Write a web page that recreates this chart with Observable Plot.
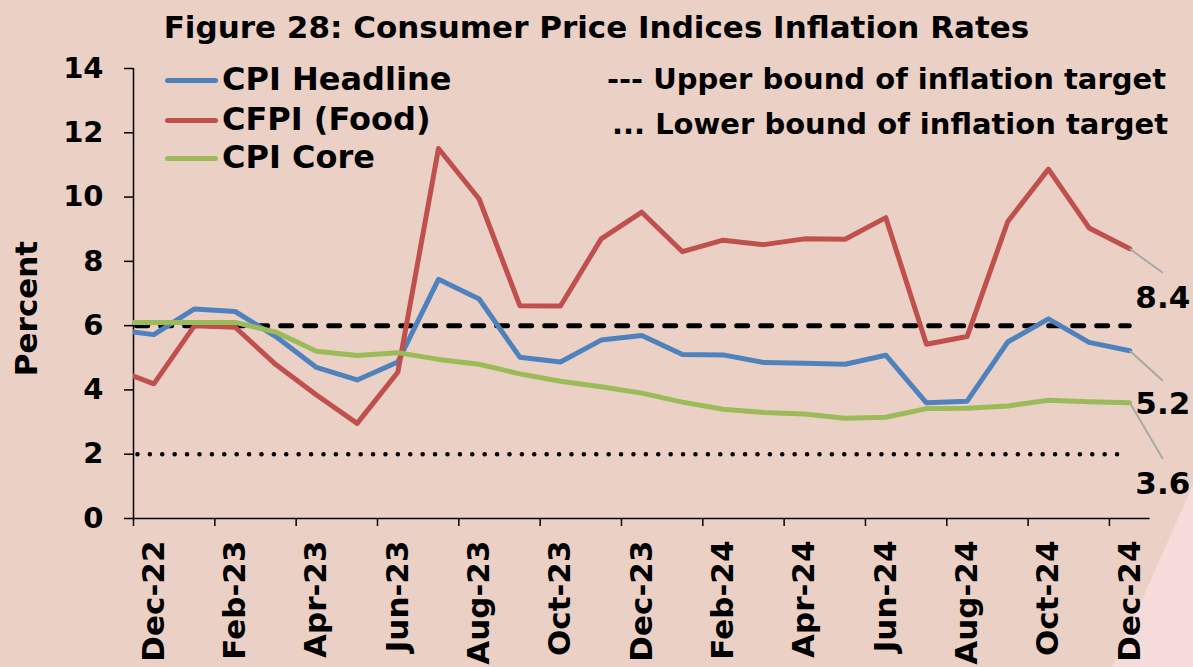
<!DOCTYPE html>
<html>
<head>
<meta charset="utf-8">
<script src="https://cdn.jsdelivr.net/npm/d3@7"></script>
<script src="https://cdn.jsdelivr.net/npm/@observablehq/plot@0.6"></script>
<style>
  html, body { margin: 0; padding: 0; }
  body { width: 1193px; height: 667px; overflow: hidden; }
  #wrap { position: relative; width: 1193px; height: 667px; background: #EBD0C6; font-family: "DejaVu Sans", sans-serif; font-weight: bold; color: #000; }
  #corner { position: absolute; left: 0; top: 0; width: 1193px; height: 667px; background: #F5DCDB; clip-path: polygon(1193px 485px, 1112px 667px, 1193px 667px); }
  #title { position: relative; height: 50px; line-height: 55px; text-align: center; font-size: 31px; }
  #chart { position: relative; }
  .leg { position: absolute; white-space: nowrap; line-height: 1; }
  .sw { position: absolute; height: 5px; border-radius: 3px; }
</style>
</head>
<body>
<div id="wrap">
  <div id="corner"></div>
  <div id="title">Figure 28: Consumer Price Indices Inflation Rates</div>
  <div id="chart"></div>
</div>
<script>
// ---- data ----
const months = ["Nov-22","Dec-22","Jan-23","Feb-23","Mar-23","Apr-23","May-23","Jun-23","Jul-23","Aug-23","Sep-23","Oct-23","Nov-23","Dec-23","Jan-24","Feb-24","Mar-24","Apr-24","May-24","Jun-24","Jul-24","Aug-24","Sep-24","Oct-24","Nov-24","Dec-24"];
const cpiHeadline = [5.88,5.72,6.52,6.44,5.66,4.70,4.31,4.87,7.44,6.83,5.02,4.87,5.55,5.69,5.10,5.09,4.85,4.83,4.80,5.08,3.60,3.65,5.49,6.21,5.48,5.22];
const cfpiFood    = [4.67,4.19,6.00,5.95,4.79,3.84,2.96,4.55,11.51,9.94,6.62,6.61,8.70,9.53,8.30,8.66,8.52,8.70,8.69,9.36,5.42,5.66,9.24,10.87,9.04,8.39];
const cpiCore     = [6.10,6.10,6.10,6.10,5.80,5.20,5.07,5.16,4.95,4.80,4.50,4.27,4.10,3.90,3.62,3.40,3.30,3.25,3.12,3.15,3.42,3.43,3.50,3.68,3.63,3.60];
const seriesNames = ["CPI Headline","CFPI (Food)","CPI Core"];
const seriesColors = ["#4F81BD","#C0504D","#9BBB59"];
const upperBound = 6;
const lowerBound = 2;
const yTicks = [0,2,4,6,8,10,12,14];

// ---- build ----
const idx = m => months.indexOf(m) - 1;   // Dec-22 = 0
const series = [cpiHeadline, cfpiFood, cpiCore];
const rows = [];
series.forEach((vals, s) => vals.forEach((v, i) => rows.push({name: seriesNames[s], x: idx(months[i]), y: v})));
const lastX = idx(months[months.length - 1]);
const firstX = idx(months[0]);
const labelMonths = months.filter((m, i) => i >= 1 && (i - 1) % 2 === 0);
const boundaries = d3.range(-0.5, lastX, 2);

const W = 1193, H = 617, mL = 133, mR = 43.4, mT = 18, mB = 149;
const pxX = (W - mL - mR) / 25, pxY = (H - mT - mB) / 14;

// end labels: offsets in pixels
const ends = [
  {s: 1, dyLink: 24, dyText: 49},
  {s: 0, dyLink: 30, dyText: 53},
  {s: 2, dyLink: 56, dyText: 81}
].map(e => {
  const v = series[e.s][series[e.s].length - 1];
  return {v, color: seriesColors[e.s], x2: lastX + 33 / pxX, y2: v - e.dyLink / pxY, dyText: e.dyText};
});

const font = "DejaVu Sans, sans-serif";
const plot = Plot.plot({
  width: W, height: H,
  marginLeft: mL, marginRight: mR, marginTop: mT, marginBottom: mB,
  style: {background: "transparent", fontFamily: font, fontWeight: "bold", color: "#000", overflow: "visible"},
  x: {type: "linear", domain: [-0.5, 24.5]},
  y: {domain: [0, 14]},
  color: {domain: seriesNames, range: seriesColors},
  marks: [
    // target bounds
    Plot.ruleY([upperBound], {x1: firstX, x2: lastX, stroke: "#000", strokeWidth: 5, strokeDasharray: "11,13", strokeLinecap: "round", clip: true}),
    Plot.ruleY([lowerBound], {x1: firstX, x2: lastX, stroke: "#000", strokeWidth: 4.6, strokeDasharray: "0,12.4", strokeLinecap: "round", clip: true}),
    // axes lines
    Plot.ruleX([-0.5], {stroke: "#000", strokeWidth: 1.5}),
    Plot.ruleY([0], {stroke: "#000", strokeWidth: 1.5}),
    Plot.axisY({ticks: yTicks, tickSize: 9, tickPadding: 21, fontSize: 29, label: null, strokeWidth: 1.5}),
    Plot.axisX({ticks: boundaries, tickSize: 8, tickFormat: () => "", label: null, strokeWidth: 1.5}),
    Plot.axisX({ticks: labelMonths.map(idx), tickSize: 0, tickPadding: 22, tickRotate: -90, fontSize: 31, label: null,
      tickFormat: d => months[d + 1]}),
    // series
    Plot.line(rows, {x: "x", y: "y", z: "name", stroke: "name", strokeWidth: 5, strokeLinejoin: "round", clip: true}),
    // leader lines & end labels
    Plot.link(ends, {x1: () => lastX, y1: "v", x2: "x2", y2: "y2", stroke: "#A6A6A6", strokeWidth: 1.8}),
    ...ends.map(e => Plot.text([e], {x: "x2", y: "v", text: d => d.v.toFixed(1), dy: e.dyText, fontSize: 31, textAnchor: "middle", fill: "#000"})),
    Plot.text(["Percent"], {frameAnchor: "left", textAnchor: "middle", rotate: -90, dx: -106, dy: 15, fontSize: 31, fill: "#000"})
  ]
});
document.getElementById("chart").appendChild(plot);

// legend overlays (HTML)
const wrap = document.getElementById("wrap");
const legY = [80, 120, 158];
seriesNames.forEach((n, i) => {
  const sw = document.createElement("div");
  sw.className = "sw";
  sw.style.cssText = `left:165px;top:${legY[i] - 2.5}px;width:53px;background:${seriesColors[i]}`;
  wrap.appendChild(sw);
  const t = document.createElement("div");
  t.className = "leg";
  t.style.cssText = `left:222px;top:${legY[i] - 17}px;font-size:32px`;
  t.textContent = n;
  wrap.appendChild(t);
});
const boundText = ["--- Upper bound of inflation target", "... Lower bound of inflation target"];
[[80, 1166], [125, 1168]].forEach(([cy, right], i) => {
  const t = document.createElement("div");
  t.className = "leg";
  t.style.cssText = `right:${1193 - right}px;top:${cy - 15}px;font-size:29px`;
  t.textContent = boundText[i];
  wrap.appendChild(t);
});
</script>
</body>
</html>
